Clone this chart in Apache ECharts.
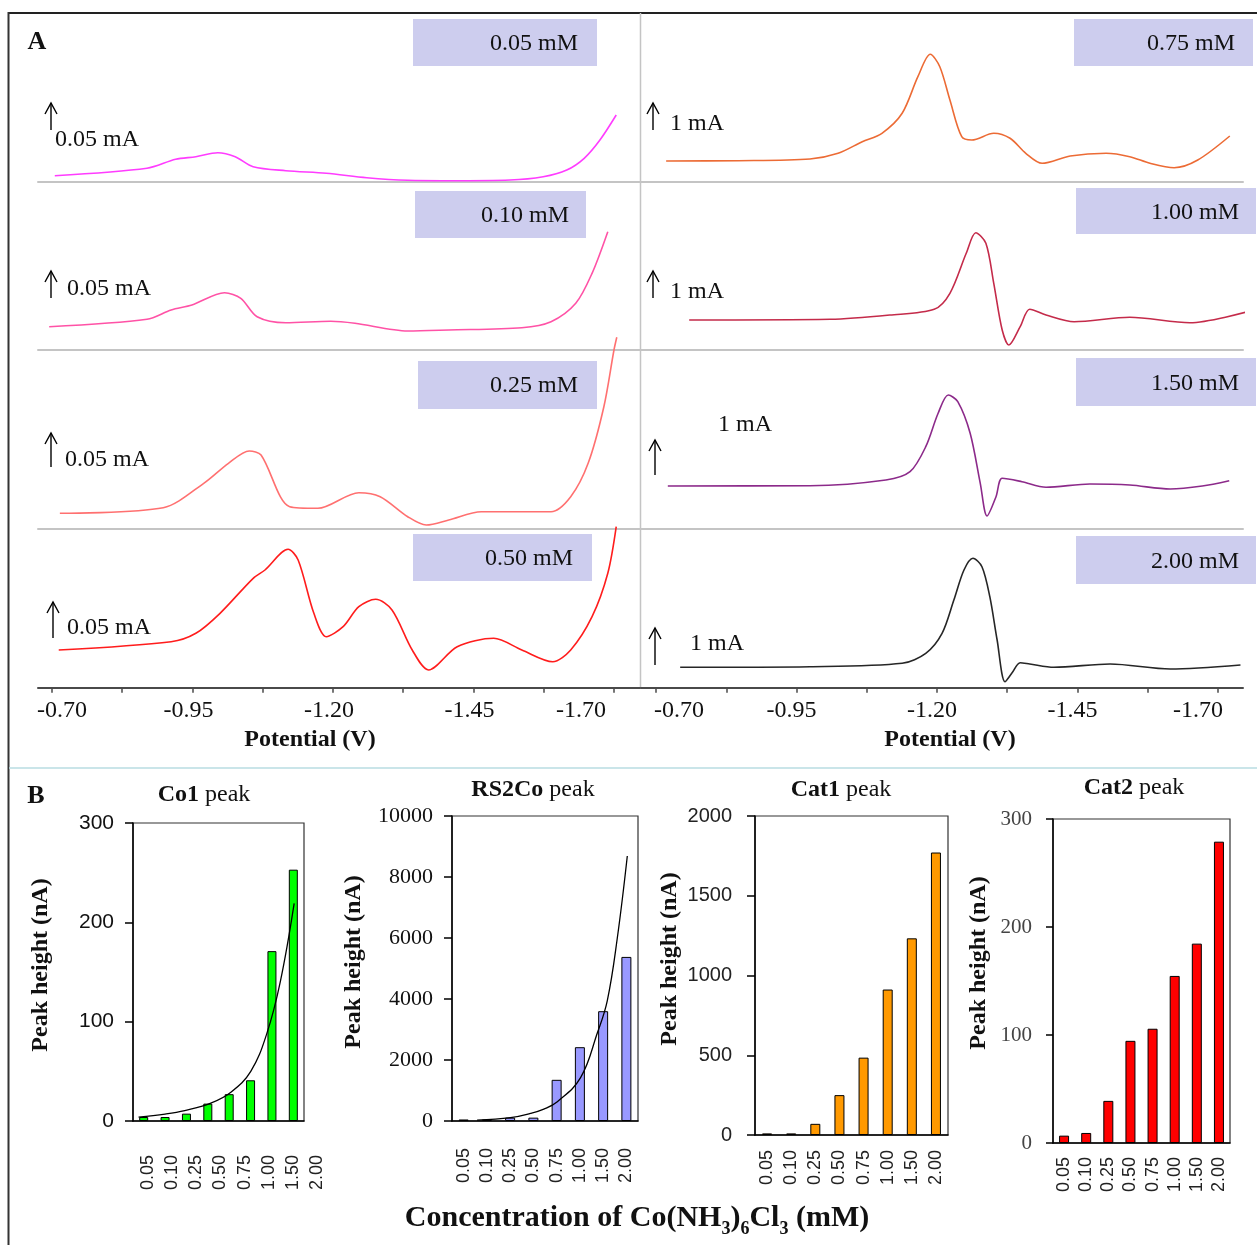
<!DOCTYPE html>
<html><head><meta charset="utf-8">
<script src="https://cdn.jsdelivr.net/npm/echarts@6/dist/echarts.min.js"></script>
<style>html,body{margin:0;padding:0;background:#fff}#c{width:1257px;height:1245px}</style>
</head><body><div id="c"></div>
<script>
// ---------------- DATA ----------------
const concLabels = ['0.05','0.10','0.25','0.50','0.75','1.00','1.50','2.00'];
const potentialLabelTicks = [-0.70,-0.95,-1.20,-1.45,-1.70];
const potentialAllTicks = [-0.70,-0.825,-0.95,-1.075,-1.20,-1.325,-1.45,-1.575,-1.70];

// DPV curves: [potential (V), current (relative units)]
const dpv005 = [[-0.705,6.0],[-0.869,13.4],[-0.920,22.4],[-0.956,25.0],[-0.995,29.0],[-1.026,25.0],[-1.058,15.0],[-1.116,11.0],[-1.188,8.4],[-1.260,4.0],[-1.333,1.4],[-1.406,1.0],[-1.515,1.7],[-1.574,5.0],[-1.616,11.7],[-1.647,23.4],[-1.675,41.7],[-1.704,66.7]];
const dpv010 = [[-0.695,23.3],[-0.869,30.7],[-0.912,40.0],[-0.949,45.0],[-1.007,57.3],[-1.036,51.7],[-1.065,33.3],[-1.116,27.3],[-1.196,28.7],[-1.239,26.7],[-1.333,19.0],[-1.406,20.0],[-1.536,22.3],[-1.588,28.3],[-1.632,46.7],[-1.661,76.7],[-1.689,118.3]];
const dpv025 = [[-0.714,15.0],[-0.898,20.6],[-0.970,45.0],[-1.014,65.0],[-1.051,77.3],[-1.072,73.3],[-1.123,21.6],[-1.173,20.0],[-1.246,35.6],[-1.284,31.6],[-1.333,11.6],[-1.366,3.3],[-1.406,8.3],[-1.464,16.6],[-1.588,16.6],[-1.623,31.6],[-1.654,65.0],[-1.682,121.6],[-1.700,178.3],[-1.705,191.0]];
const dpv050 = [[-0.712,37.7],[-0.912,46.0],[-0.956,54.4],[-0.999,74.4],[-1.058,109.4],[-1.079,117.7],[-1.120,138.4],[-1.138,127.7],[-1.166,74.4],[-1.188,51.0],[-1.218,61.0],[-1.246,81.0],[-1.276,88.4],[-1.305,77.7],[-1.341,37.7],[-1.370,17.7],[-1.421,41.0],[-1.486,49.4],[-1.536,37.7],[-1.591,26.0],[-1.623,37.7],[-1.661,71.0],[-1.689,114.4],[-1.704,161.0]];
const dpv075 = [[-0.718,20.7],[-0.846,21.0],[-0.974,22.7],[-1.024,28.4],[-1.067,40.0],[-1.102,48.4],[-1.138,68.4],[-1.166,105.0],[-1.188,127.4],[-1.205,115.0],[-1.223,81.7],[-1.244,45.0],[-1.262,41.7],[-1.301,48.4],[-1.330,43.4],[-1.358,28.4],[-1.387,18.4],[-1.437,25.7],[-1.501,28.4],[-1.543,25.0],[-1.579,18.4],[-1.622,14.0],[-1.664,21.7],[-1.721,45.7]];
const dpv100 = [[-0.759,30.0],[-1.010,30.7],[-1.116,35.0],[-1.195,40.7],[-1.223,56.7],[-1.252,96.7],[-1.269,117.3],[-1.287,106.7],[-1.301,66.7],[-1.316,20.0],[-1.328,5.0],[-1.348,23.3],[-1.365,40.7],[-1.394,35.0],[-1.444,28.3],[-1.543,32.7],[-1.650,27.3],[-1.753,38.3]];
const dpv150 = [[-0.721,42.3],[-0.974,42.6],[-1.109,48.3],[-1.152,56.6],[-1.180,81.6],[-1.202,115.0],[-1.220,133.3],[-1.237,126.6],[-1.259,95.0],[-1.277,45.0],[-1.289,12.3],[-1.305,31.6],[-1.316,50.0],[-1.351,46.6],[-1.394,41.0],[-1.472,44.3],[-1.543,43.3],[-1.615,39.3],[-1.672,42.3],[-1.720,47.6]];
const dpv200 = [[-0.743,20.4],[-0.974,21.0],[-1.138,24.4],[-1.180,34.4],[-1.209,54.4],[-1.230,87.7],[-1.248,117.7],[-1.264,129.4],[-1.280,121.0],[-1.294,91.0],[-1.307,47.7],[-1.321,6.0],[-1.333,14.4],[-1.348,25.0],[-1.365,23.7],[-1.408,20.4],[-1.508,23.7],[-1.615,18.7],[-1.740,22.7]];

const concNames = ['0.05 mM','0.10 mM','0.25 mM','0.50 mM','0.75 mM','1.00 mM','1.50 mM','2.00 mM'];
const scaleNames = ['0.05 mA','0.05 mA','0.05 mA','0.05 mA','1 mA','1 mA','1 mA','1 mA'];

// Peak heights (nA)
const co1Peak   = [4, 4, 7.4, 17.5, 27, 41, 171, 253];
const rs2coPeak = [50, 50, 110, 110, 1350, 2420, 3600, 5380];
const cat1Peak  = [10, 10, 70, 250, 485, 912, 1233, 1771];
const cat2Peak  = [6.8, 9.3, 39, 94.6, 105.8, 154.7, 184.6, 279];
// exponential trend lines (category position, value)
const co1Trend   = [[0.76,4],[2.0,7],[2.92,10.5],[4.14,18],[5.08,29],[6.01,50],[6.76,88],[7.39,140],[8.04,219]];
const rs2coTrend = [[1.58,30],[3.01,108],[3.875,250],[4.45,390],[5.03,633],[6.03,1420],[6.75,2885],[7.18,3950],[7.61,6000],[8.04,8688]];

// ---------------- LAYOUT / STYLE ----------------
const SERIF = "'Liberation Serif','Times New Roman',serif";
const SANS = "'Liberation Sans',Arial,sans-serif";

const rowTop = [13, 181.7, 350, 528.3];
const rowBot = [181.7, 350, 528.3, 687.7];
const colLeft = [38, 641];
const colWidth = 602;
const colRange = [[-1.7463, -0.6751], [-1.7445, -0.6733]];
// label offsets (padding) per column: first label, middle labels, last label
const labelPad = [
  {a:[0,0,0,20], m:[0,8,0,0], z:[0,66,0,0]},
  {a:[0,0,0,46], m:[0,10,0,0], z:[0,40,0,0]}
];

const panels = [
  {col:0,row:0,data:dpv005,color:'#FF3CFF'},
  {col:0,row:1,data:dpv010,color:'#FF52A6'},
  {col:0,row:2,data:dpv025,color:'#FF7070'},
  {col:0,row:3,data:dpv050,color:'#FF1C1C'},
  {col:1,row:0,data:dpv075,color:'#EC6B35'},
  {col:1,row:1,data:dpv100,color:'#C42B4A'},
  {col:1,row:2,data:dpv150,color:'#8C2A8A'},
  {col:1,row:3,data:dpv200,color:'#262626'}
];
// annotation layout (boxes, arrows, scale texts)
const boxes = [[413,19,597,66,578,44],[415,191,586,238,569,216],[418,361,597,409,578,386],[413,534,592,581,573,559],
               [1074,19,1253,66,1235,44],[1076,188,1256,234,1239,213],[1076,358,1256,406,1239,384],[1076,536,1256,584,1239,562]];
const arrows = [[51,103,130],[51,271,298],[51,433,467],[53,602,638],[653,103,130],[653,271,298],[655,440,475],[655,628,665]];
const scalePos = [[55,140],[67,289],[65,460],[67,628],[670,124],[670,292],[718,425],[690,644]];

const grid = [], xAxis = [], yAxis = [], series = [], graphic = [];

panels.forEach((p, i) => {
  const bottom = p.row === 3;
  const h = rowBot[p.row] - rowTop[p.row];
  const lp = labelPad[p.col];
  const lf = {fontFamily:SERIF, fontSize:24, color:'#111'};
  grid.push({left: colLeft[p.col], top: rowTop[p.row], width: colWidth, height: h});
  xAxis.push({
    type:'value', gridIndex:i, inverse:true, min:colRange[p.col][0], max:colRange[p.col][1],
    axisLine:{show:true, onZero:false, lineStyle:{color: bottom ? '#4a4a4a' : '#c4c4c4', width:2}},
    axisTick:{show:bottom, customValues:potentialAllTicks, length:5, lineStyle:{color:'#4a4a4a', width:1.5}},
    axisLabel:{show:bottom, customValues:potentialLabelTicks,
      formatter:v=>{
        const k = Math.round(v*100);
        const key = k === -70 ? 'a' : (k === -170 ? 'z' : 'm');
        return '{' + key + '|' + v.toFixed(2) + '}';
      },
      fontFamily:SERIF, fontSize:24, color:'#111', margin:11,
      rich:{a:Object.assign({padding:lp.a}, lf), m:Object.assign({padding:lp.m}, lf), z:Object.assign({padding:lp.z}, lf)}},
    splitLine:{show:false},
    name: bottom ? 'Potential (V)' : '', nameLocation:'middle', nameGap:40,
    nameTextStyle:{fontFamily:SERIF, fontWeight:'bold', fontSize:24, color:'#111',
      padding: p.col === 0 ? [0,58,0,0] : [0,0,0,16]}
  });
  yAxis.push({type:'value', gridIndex:i, min:0, max:h, show:false});
  series.push({type:'line', xAxisIndex:i, yAxisIndex:i, data:p.data, smooth:0.3, showSymbol:false,
    clip:false, silent:true, lineStyle:{color:p.color, width:1.6}});

  const b = boxes[i];
  graphic.push({type:'rect', shape:{x:b[0], y:b[1], width:b[2]-b[0], height:b[3]-b[1]}, style:{fill:'#CDCDEE'}, z:1});
  graphic.push({type:'text', x:b[4], y:b[5], z:2, style:{text:concNames[i], font:'24px '+SERIF, fill:'#111', align:'right', verticalAlign:'middle'}});
  const a = arrows[i];
  graphic.push({type:'line', shape:{x1:a[0], y1:a[1], x2:a[0], y2:a[2]}, style:{stroke:'#000', lineWidth:1.4}, z:2});
  graphic.push({type:'polyline', shape:{points:[[a[0]-6,a[1]+11],[a[0],a[1]],[a[0]+6,a[1]+11]]}, style:{stroke:'#000', lineWidth:1.4, fill:null}, z:2});
  const s = scalePos[i];
  graphic.push({type:'text', x:s[0], y:s[1], z:2, style:{text:scaleNames[i], font:'24px '+SERIF, fill:'#111', align:'left', verticalAlign:'middle'}});
});

// ---------- Part B ----------
function catX(gi, showLabel, margin){
  return {type:'category', gridIndex:gi, data:concLabels,
    axisLine:{show:true, onZero:false, lineStyle:{color:'#000', width:1.5}},
    axisTick:{show:false},
    axisLabel:{show:showLabel, rotate:90, fontFamily:SANS, fontSize:18, color:'#222', margin:margin, interval:0},
    splitLine:{show:false}};
}
function valY(gi, max, interval, font, size, color, margin, tick, gap, pad){
  return {type:'value', gridIndex:gi, min:0, max:max, interval:interval,
    axisLine:{show:true, lineStyle:{color:'#000', width:1.5}},
    axisTick:{show:true, length:tick, lineStyle:{color:'#000', width:1.5}},
    axisLabel:{fontFamily:font, fontSize:size, color:color, margin:margin, formatter:v=>String(v)},
    splitLine:{show:false},
    name:'Peak height (nA)', nameLocation:'middle', nameGap:gap, nameRotate:90,
    nameTextStyle:{fontFamily:SERIF, fontWeight:'bold', fontSize:24, color:'#111', padding:[0,0,0,pad]}};
}
const gridBorder = {show:true, borderColor:'#333', borderWidth:1.2, backgroundColor:'transparent'};

grid.push(Object.assign({left:133, top:823, width:171, height:298}, gridBorder));          // 8  Co1
grid.push({left:136, top:823, width:193, height:298});                                      // 9  Co1 label band
grid.push(Object.assign({left:452, top:816, width:186, height:305}, gridBorder));           // 10 RS2Co
grid.push(Object.assign({left:755, top:816, width:193, height:319}, gridBorder));           // 11 Cat1
grid.push(Object.assign({left:1053, top:819, width:177, height:324}, gridBorder));          // 12 Cat2

xAxis.push(catX(8, false, 0));                                                   // 8
xAxis.push({type:'value', gridIndex:8, min:0.5, max:8.5, show:false});           // 9
xAxis.push(Object.assign(catX(9, true, 34), {axisLine:{show:false}}));          // 10
xAxis.push(catX(10, true, 27));                                                  // 11
xAxis.push({type:'value', gridIndex:10, min:0.5, max:8.5, show:false});          // 12
xAxis.push(catX(11, true, 15));                                                  // 13
xAxis.push(catX(12, true, 14));                                                  // 14

yAxis.push(valY(8, 300, 100, SANS, 21, '#111', 19, 8, 80, 14));                  // 8
yAxis.push({type:'value', gridIndex:9, min:0, max:1, show:false});               // 9
yAxis.push(valY(10, 10000, 2000, SERIF, 22, '#111', 19, 8, 86, 13));             // 10
yAxis.push(valY(11, 2000, 500, SANS, 20, '#222', 23, 8, 73, 33));                // 11
yAxis.push(valY(12, 300, 100, SERIF, 21, '#444', 21, 7, 62, 36));                // 12

const barStyle = c => ({color:c, borderColor:'#000', borderWidth:1});
series.push({type:'bar', xAxisIndex:8, yAxisIndex:8, data:co1Peak, barWidth:9, itemStyle:barStyle('#00FF00'), silent:true});
series.push({type:'line', xAxisIndex:9, yAxisIndex:8, data:co1Trend, smooth:0.4, showSymbol:false, silent:true, lineStyle:{color:'#000', width:1.3}});
series.push({type:'bar', xAxisIndex:11, yAxisIndex:10, data:rs2coPeak, barWidth:10, itemStyle:barStyle('#9999FF'), silent:true});
series.push({type:'line', xAxisIndex:12, yAxisIndex:10, data:rs2coTrend, smooth:0.4, showSymbol:false, silent:true, lineStyle:{color:'#000', width:1.3}});
series.push({type:'bar', xAxisIndex:13, yAxisIndex:11, data:cat1Peak, barWidth:10, itemStyle:barStyle('#FF9900'), silent:true});
series.push({type:'bar', xAxisIndex:14, yAxisIndex:12, data:cat2Peak, barWidth:10, itemStyle:barStyle('#FF0000'), silent:true});

// frame & labels
graphic.push({type:'line', shape:{x1:8, y1:13, x2:1257, y2:13}, style:{stroke:'#222', lineWidth:2}});
graphic.push({type:'line', shape:{x1:8.5, y1:12, x2:8.5, y2:1245}, style:{stroke:'#333', lineWidth:2}});
graphic.push({type:'line', shape:{x1:9, y1:768, x2:1257, y2:768}, style:{stroke:'#B9DCE2', lineWidth:1.5}});
graphic.push({type:'line', shape:{x1:640.5, y1:13, x2:640.5, y2:688}, style:{stroke:'#c4c4c4', lineWidth:1.5}});
graphic.push({type:'text', x:37, y:42, style:{text:'A', font:'bold 26px '+SERIF, fill:'#111', align:'center', verticalAlign:'middle'}});
graphic.push({type:'text', x:36, y:796, style:{text:'B', font:'bold 26px '+SERIF, fill:'#111', align:'center', verticalAlign:'middle'}});

const rt = {b:{fontFamily:SERIF, fontWeight:'bold', fontSize:24, fill:'#111'}, n:{fontFamily:SERIF, fontSize:24, fill:'#111'}};
[['{b|Co1}{n| peak}',204,795],['{b|RS2Co}{n| peak}',533,790],['{b|Cat1}{n| peak}',841,790],['{b|Cat2}{n| peak}',1134,788]].forEach(t=>{
  graphic.push({type:'text', x:t[1], y:t[2], style:{text:t[0], rich:rt, align:'center', verticalAlign:'middle'}});
});
graphic.push({type:'text', x:637, y:1218, style:{
  text:'{b|Concentration of Co(NH}{s|3}{b|)}{s|6}{b|Cl}{s|3}{b| (mM)}', align:'center', verticalAlign:'middle',
  rich:{b:{fontFamily:SERIF, fontWeight:'bold', fontSize:30, lineHeight:40, fill:'#111'},
        s:{fontFamily:SERIF, fontWeight:'bold', fontSize:18, lineHeight:18, verticalAlign:'bottom', fill:'#111'}}}});

const chart = echarts.init(document.getElementById('c'), null, {renderer:'canvas'});
chart.setOption({animation:false, backgroundColor:'#fff', grid, xAxis, yAxis, series, graphic});
</script></body></html>
